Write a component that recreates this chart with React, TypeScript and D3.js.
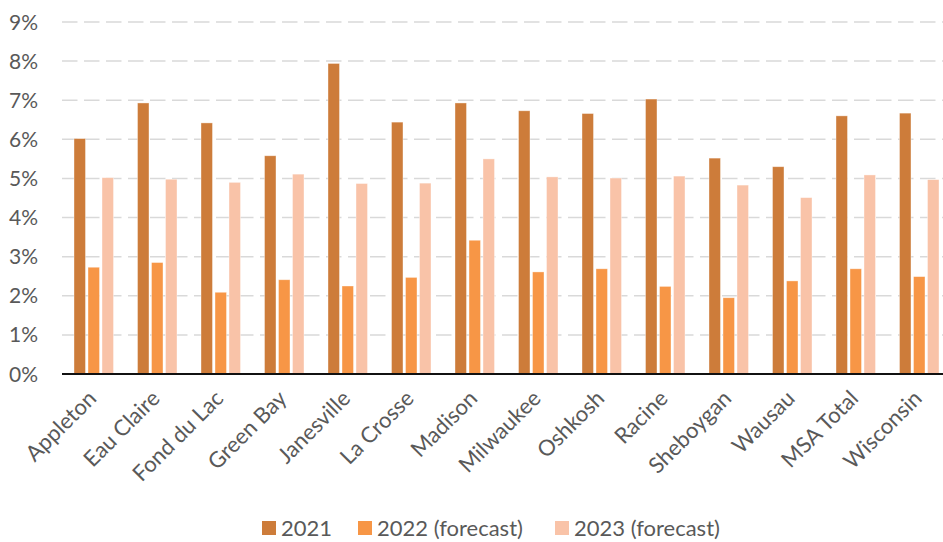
import React from 'react';
import * as d3 from 'd3';

const categories = ['Appleton', 'Eau Claire', 'Fond du Lac', 'Green Bay', 'Janesville', 'La Crosse',
  'Madison', 'Milwaukee', 'Oshkosh', 'Racine', 'Sheboygan', 'Wausau', 'MSA Total', 'Wisconsin'];
const seriesNames = ['2021', '2022 (forecast)', '2023 (forecast)'];
const values2021 = [6.02, 6.93, 6.42, 5.58, 7.94, 6.44, 6.93, 6.73, 6.66, 7.03, 5.52, 5.30, 6.60, 6.67];
const values2022 = [2.73, 2.85, 2.09, 2.41, 2.25, 2.47, 3.42, 2.61, 2.69, 2.24, 1.95, 2.38, 2.69, 2.49];
const values2023 = [5.02, 4.98, 4.90, 5.11, 4.87, 4.88, 5.50, 5.04, 5.01, 5.06, 4.83, 4.51, 5.09, 4.97];
const yTicks = [0, 1, 2, 3, 4, 5, 6, 7, 8, 9];
const colours = ['#CD7C3A', '#F79646', '#F9C3A8'];

const width = 943;
const height = 542;
const left = 62;
const top = 22;
const bottom = 374;
const font = 'Lato, "Open Sans", sans-serif';

export default function App() {
  const seriesValues = [values2021, values2022, values2023];
  const x = d3.scaleBand<string>().domain(categories).range([left, 951]).padding(0);
  const bw = x.bandwidth();
  const x1 = d3.scaleBand<string>().domain(seriesNames)
    .range([bw * 0.189, bw * 0.811]).paddingInner(0.18);
  const y = d3.scaleLinear().domain([0, 9]).range([bottom, top]);

  const legendX = [262, 358, 555];

  return (
    <svg width={width} height={height} style={{ position: 'absolute', left: 0, top: 0 }}
      fontFamily={font}>
      <rect width={width} height={height} fill="#fff" />
      {yTicks.map((t) => (
        <g key={t}>
          {t > 0 && (
            <line x1={left} x2={width} y1={y(t)} y2={y(t)} stroke="#D9D9D9"
              strokeWidth={1.5} strokeDasharray="15.5,6.5" />
          )}
          <text x={38} y={y(t)} dy="0.36em" textAnchor="end" fontSize={21} fill="#595959">
            {t}%
          </text>
        </g>
      ))}
      {categories.map((c, i) => (
        <g key={c} transform={`translate(${x(c)},0)`}>
          {seriesNames.map((s, j) => (
            <rect key={s} x={x1(s)} width={x1.bandwidth()} y={y(seriesValues[j][i])}
              height={bottom - y(seriesValues[j][i])} fill={colours[j]}
              stroke="#fff" strokeOpacity={0.5} strokeWidth={0.75} />
          ))}
        </g>
      ))}
      <line x1={left} x2={width} y1={bottom} y2={bottom} stroke="#111" strokeWidth={2} />
      {categories.map((c) => (
        <text key={c} transform={`translate(${(x(c) as number) + bw / 2 - 7},${bottom + 15}) rotate(-45)`}
          textAnchor="end" dy="0.7em" fontSize={22} fill="#595959">
          {c}
        </text>
      ))}
      {seriesNames.map((s, j) => (
        <g key={s} transform={`translate(${legendX[j]},0)`}>
          <rect x={0} y={521} width={14} height={14} fill={colours[j]} />
          <text x={19} y={528} dy="0.36em" fontSize={22} fill="#595959">{s}</text>
        </g>
      ))}
    </svg>
  );
}
